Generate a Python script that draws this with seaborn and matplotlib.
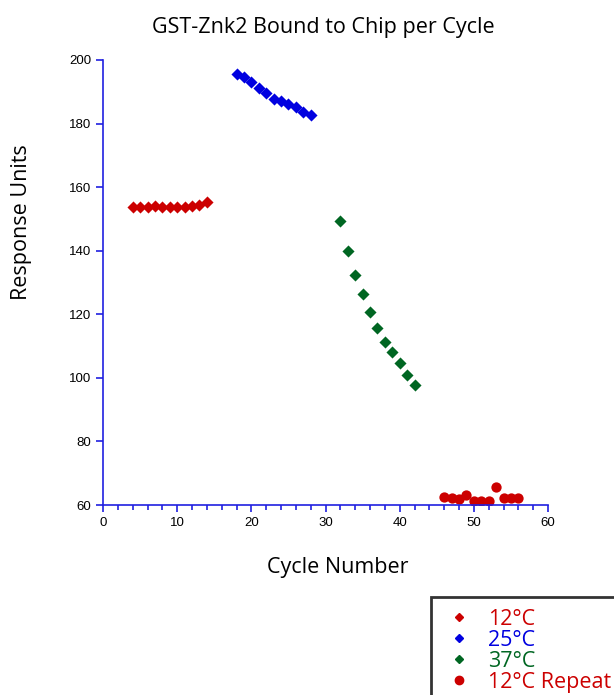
import numpy as np
import pandas as pd
import matplotlib
matplotlib.use("Agg")
import matplotlib.pyplot as plt
from matplotlib.ticker import MultipleLocator
from matplotlib.lines import Line2D
import seaborn as sns

# cycle numbers and response units for each run
cyc_12 = [4, 5, 6, 7, 8, 9, 10, 11, 12, 13, 14]
ru_12 = [153.8, 153.8, 153.9, 154.0, 153.8, 153.8, 153.6, 153.8, 154.1, 154.3, 155.3]
cyc_25 = [18, 19, 20, 21, 22, 23, 24, 25, 26, 27, 28]
ru_25 = [195.6, 194.8, 193.1, 191.2, 189.6, 187.8, 187.0, 186.2, 185.2, 183.7, 182.7]
cyc_37 = [32, 33, 34, 35, 36, 37, 38, 39, 40, 41, 42]
ru_37 = [149.5, 139.8, 132.5, 126.4, 120.6, 115.7, 111.2, 108.1, 104.6, 100.9, 97.8]
cyc_rep = [46, 47, 48, 49, 50, 51, 52, 53, 54, 55, 56]
ru_rep = [62.4, 62.2, 61.9, 63.0, 61.4, 61.3, 61.3, 65.6, 62.3, 62.3, 62.2]

labels = ["12°C", "25°C", "37°C", "12°C Repeat"]
colors = {"12°C": "#cc0000", "25°C": "#0000e0", "37°C": "#006622", "12°C Repeat": "#cc0000"}
markers = {"12°C": "D", "25°C": "D", "37°C": "D", "12°C Repeat": "o"}

df = pd.concat([
    pd.DataFrame({"cycle": c, "ru": r, "series": lab})
    for c, r, lab in zip([cyc_12, cyc_25, cyc_37, cyc_rep],
                         [ru_12, ru_25, ru_37, ru_rep], labels)
])

sns.set_style("white")
plt.rcParams["font.family"] = ["Liberation Sans", "DejaVu Sans"]
plt.rcParams["text.color"] = "black"
plt.rcParams["axes.labelcolor"] = "black"
plt.rcParams["xtick.color"] = "black"
plt.rcParams["ytick.color"] = "black"
axis_blue = "#2020e0"

fig = plt.figure(figsize=(6.14, 6.95), dpi=100)
ax = fig.add_axes([103 / 614, 1 - 505 / 695, 445 / 614, 445 / 695])

for lab in labels:
    sub = df[df.series == lab]
    sns.scatterplot(data=sub, x="cycle", y="ru", color=colors[lab], marker=markers[lab],
                    s=38 if markers[lab] == "D" else 55, linewidth=0, ax=ax,
                    legend=False)

ax.set_xlim(0, 60)
ax.set_ylim(60, 200)
ax.xaxis.set_major_locator(MultipleLocator(10))
ax.xaxis.set_minor_locator(MultipleLocator(2))
ax.yaxis.set_major_locator(MultipleLocator(20))
for s in ["top", "right"]:
    ax.spines[s].set_visible(False)
for s in ["left", "bottom"]:
    ax.spines[s].set_color(axis_blue)
    ax.spines[s].set_linewidth(1.2)
ax.tick_params(which="major", length=5, width=1.2, color=axis_blue, labelsize=9.5,
               labelcolor="black", left=True, bottom=True, direction="out")
ax.tick_params(which="minor", length=3.5, width=1.2, color=axis_blue, bottom=True,
               direction="out")
ax.set_xlabel("Cycle Number", fontsize=15.5, family="Open Sans", labelpad=21)
ax.set_ylabel("Response Units", fontsize=15.5, family="Open Sans", labelpad=26)
ax.xaxis.set_label_coords((338 - 103) / 445, -(568 - 505) / 445)
ax.yaxis.set_label_coords(-(103 - 22) / 445, (505 - 222) / 445)
ax.xaxis.label.set_va("center")
ax.yaxis.label.set_va("center")
fig.text(323 / 614, 1 - 28 / 695, "GST-Znk2 Bound to Chip per Cycle",
         ha="center", va="center", fontsize=15.5, family="Open Sans")

handles = [Line2D([], [], ls="none", marker=markers[l], color=colors[l],
                  markersize=4.5 if markers[l] == "D" else 6) for l in labels]
leg = fig.legend(handles, labels, loc="upper left",
                 bbox_to_anchor=(431 / 614, 1 - 597 / 695),
                 frameon=True, fancybox=False, edgecolor="black",
                 prop={"family": "Open Sans", "size": 15.5},
                 labelspacing=0.0, handletextpad=0.6, handlelength=1.5,
                 borderpad=0.55, borderaxespad=0)
leg.get_frame().set_linewidth(2)
for t, l in zip(leg.get_texts(), labels):
    t.set_color(colors[l])

fig.savefig("out.png", dpi=100)
